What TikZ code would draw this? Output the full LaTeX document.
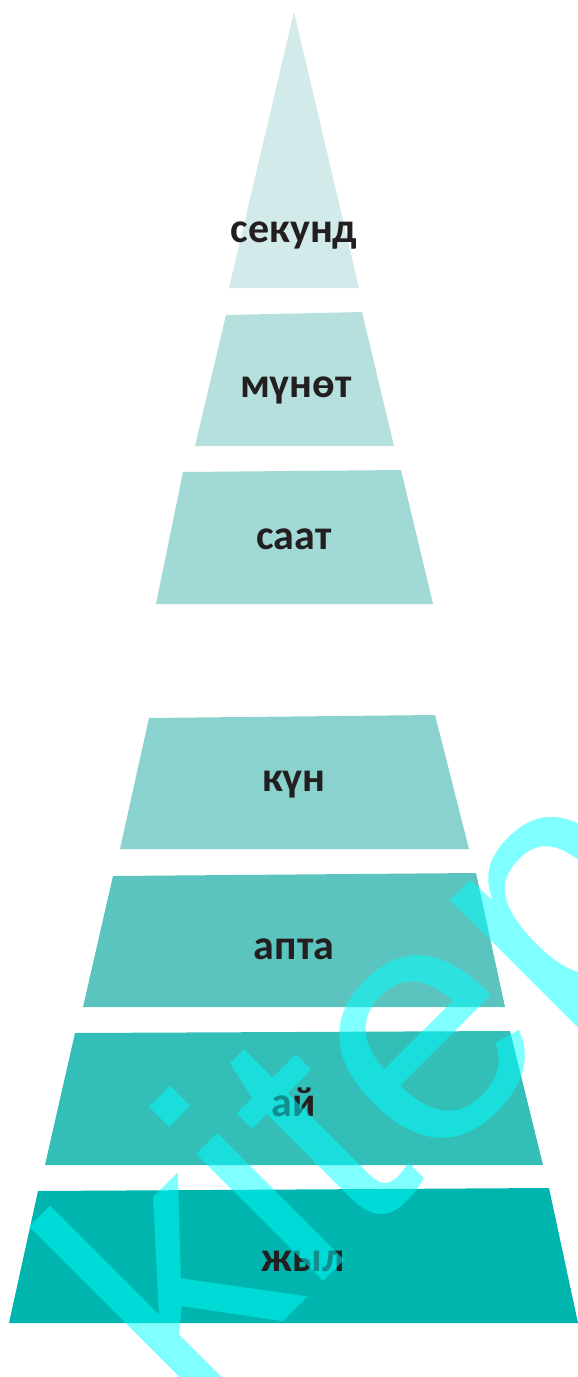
\documentclass[tikz,border=0pt]{standalone}
\usepackage{fontspec}
\setmainfont{Carlito}
\newfontfamily\wmfont{Liberation Sans}
\usepackage{xcolor}
\usepackage{tikz}

\definecolor{lvlsec}{HTML}{D2EBEA}
\definecolor{lvlmin}{HTML}{B5E0DE}
\definecolor{lvlhour}{HTML}{A1D9D6}
\definecolor{lvlday}{HTML}{8AD2CE}
\definecolor{lvlweek}{HTML}{5CC4BE}
\definecolor{lvlmonth}{HTML}{33BEB7}
\definecolor{lvlyear}{HTML}{00B5AD}
\definecolor{labeltxt}{HTML}{231F20}
\definecolor{wmcyan}{RGB}{0,255,255}

\begin{document}
\begin{tikzpicture}[
  x=0.5pt, y=-0.5pt,
  lvl/.style={anchor=base, inner sep=0pt, text=labeltxt,
              font=\fontsize{21}{24}\selectfont\bfseries},
  wmark/.style={anchor=base west, inner sep=0pt, rotate=45,
                text=wmcyan, text opacity=0.5,
                font=\wmfont\fontsize{170}{175}\selectfont}
]

\clip (0,0) rectangle (578,1377);

% ── Levels, top to bottom ──
\fill[lvlsec]   (294,12)  -- (359,288)  -- (229,288) -- cycle;
\fill[lvlmin]   (226,315) -- (362,312)  -- (394,446)  -- (195,446)  -- cycle;
\fill[lvlhour]  (183,472) -- (401,470)  -- (433,604)  -- (156,604)  -- cycle;
\fill[lvlday]   (149,718) -- (435,715)  -- (469,849)  -- (120,849)  -- cycle;
\fill[lvlweek]  (113,876) -- (476,873)  -- (505,1007) -- (83,1007)  -- cycle;
\fill[lvlmonth] (75,1033) -- (510,1031) -- (543,1165) -- (45,1165)  -- cycle;
\fill[lvlyear]  (38,1191) -- (549,1188) -- (578,1323) -- (9,1323)   -- cycle;

% ── Labels ──
\node[lvl] (sec)   at (294,242)  {секунд};
\node[lvl] (min)   at (296,397)  {мүнөт};
\node[lvl] (hour)  at (294,549)  {саат};
\node[lvl] (day)   at (294,791)  {күн};
\node[lvl] (week)  at (294,959)  {апта};
\node[lvl] (month) at (294,1116) {ай};
\node[lvl] (year)  at (303,1271) {жыл};

% ── Watermark ──
\node[wmark] (wm) at (187,1418) {kitep};

\end{tikzpicture}
\end{document}
